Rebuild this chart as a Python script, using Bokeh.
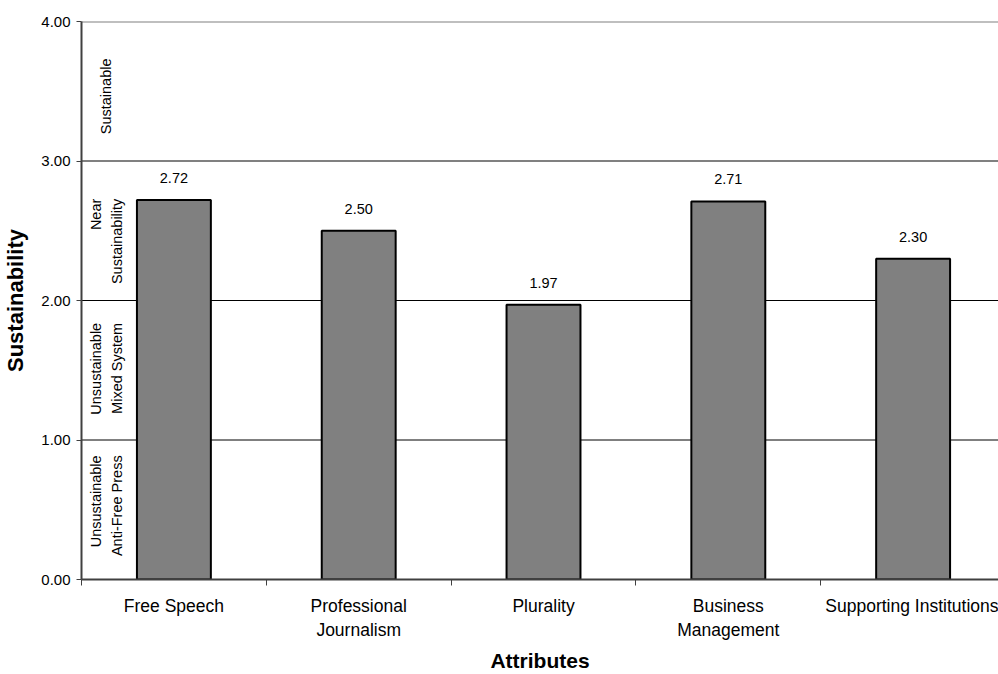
import math
from bokeh.plotting import figure
from bokeh.models import ColumnDataSource, FixedTicker, NumeralTickFormatter, Span, Range1d
from bokeh.core.properties import value
from bokeh.embed import file_html
from bokeh.resources import INLINE

categories = ["Free Speech", "Professional\nJournalism", "Plurality", "Business\nManagement", "Supporting Institutions"]
scores = [2.72, 2.50, 1.97, 2.71, 2.30]
score_labels = ["2.72", "2.50", "1.97", "2.71", "2.30"]
band_labels = ["Sustainable", "Near\nSustainability", "Unsustainable\nMixed System", "Unsustainable\nAnti-Free Press"]
y_ticks = [0, 1, 2, 3, 4]

# placement of the rotated band captions (top end of each text, in axis units)
band_text_top = [3.735, 2.73, 1.84, 0.89]

FONT = "Liberation Sans"

p = figure(width=998, height=674, output_backend="svg", toolbar_location=None,
           x_range=Range1d(0, 4.962), y_range=Range1d(0, 4.0),
           min_border_left=80, min_border_right=0, min_border_top=21, min_border_bottom=95)
p.outline_line_color = None
p.background_fill_color = "white"
p.xgrid.visible = False
p.ygrid.visible = False

for yv, col, w in [(4, "#808080", 2), (3, "#808080", 2), (2, "black", 1), (1, "black", 1)]:
    p.add_layout(Span(location=yv, dimension="width", line_color=col, line_width=w, level="underlay"))

xs = [i + 0.5 for i in range(len(categories))]
src = ColumnDataSource(dict(x=xs, top=scores, lab=score_labels))
p.vbar(x="x", top="top", bottom=0, width=0.4, source=src, fill_color="#808080",
       line_color="black", line_width=2)
p.text(x="x", y="top", text="lab", source=src, text_align="center", text_baseline="alphabetic",
       y_offset=-22, text_font=value(FONT), text_font_size="14.5px", text_color="black")

bsrc = ColumnDataSource(dict(x=[0.135] * 4, y=band_text_top, t=band_labels))
p.text(x="x", y="y", text="t", source=bsrc, angle=math.pi / 2, text_align="right",
       text_baseline="middle", text_font=value(FONT), text_font_size="14.5px",
       text_color="black", text_line_height=1.3)

# y axis
p.yaxis.ticker = FixedTicker(ticks=y_ticks)
p.yaxis.formatter = NumeralTickFormatter(format="0.00")
p.yaxis.axis_label = "Sustainability"
p.yaxis.axis_label_text_font = FONT
p.yaxis.axis_label_text_font_style = "bold"
p.yaxis.axis_label_text_font_size = "22px"
p.yaxis.axis_label_text_color = "black"
p.yaxis.axis_label_standoff = 10
p.yaxis.major_label_text_font = FONT
p.yaxis.major_label_text_font_size = "15px"
p.yaxis.major_label_text_color = "black"
p.yaxis.major_tick_in = 0
p.yaxis.major_tick_out = 5
p.yaxis.minor_tick_out = 0
p.yaxis.minor_tick_in = 0
p.yaxis.axis_line_width = 2
p.yaxis.axis_line_color = "#404040"
p.yaxis.major_tick_line_color = "#404040"
p.yaxis.major_label_standoff = 6

# x axis
p.xaxis.ticker = FixedTicker(ticks=xs, minor_ticks=[0, 1, 2, 3, 4, 5])
p.xaxis.major_label_overrides = {x: c for x, c in zip(xs, categories)}
p.xaxis.major_label_text_font = FONT
p.xaxis.major_label_text_font_size = "17.5px"
p.xaxis.major_label_text_color = "black"
p.xaxis.major_label_text_line_height = 1.2
p.xaxis.major_label_standoff = 10
p.xaxis.major_tick_in = 0
p.xaxis.major_tick_out = 0
p.xaxis.minor_tick_in = 0
p.xaxis.minor_tick_out = 6
p.xaxis.axis_line_width = 2
p.xaxis.axis_line_color = "#404040"
p.xaxis.minor_tick_line_color = "#404040"
p.xaxis.axis_label = "Attributes"
p.xaxis.axis_label_text_font = FONT
p.xaxis.axis_label_text_font_style = "bold"
p.xaxis.axis_label_text_font_size = "21px"
p.xaxis.axis_label_text_color = "black"
p.xaxis.axis_label_standoff = 6

open("out.html", "w").write(file_html(p, INLINE))
